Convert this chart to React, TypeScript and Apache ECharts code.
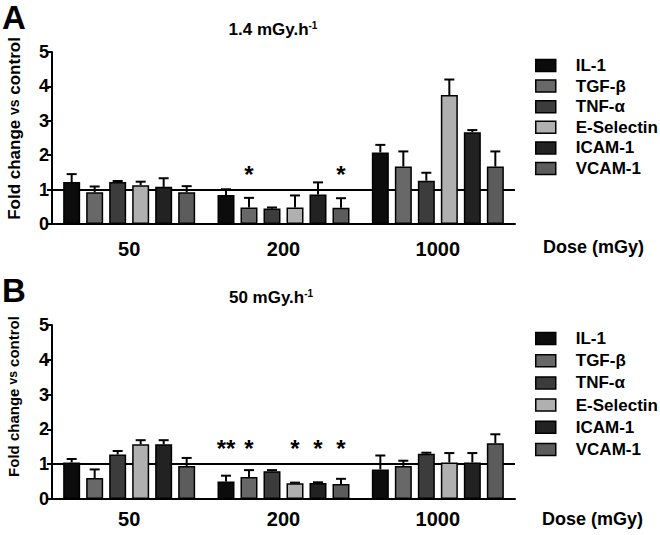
import React, { useEffect, useRef } from "react";
import * as echarts from "echarts";

const categories = ["50", "200", "1000"];
const seriesNames = ["IL-1", "TGF-β", "TNF-α", "E-Selectin", "ICAM-1", "VCAM-1"];
const seriesColors = ["#0c0c0c", "#686868", "#3c3c3c", "#b0b0b0", "#222222", "#5c5c5c"];

// Panel A (1.4 mGy.h-1): means per cytokine across doses 50, 200, 1000
const il1A = [1.22, 0.84, 2.08];
const tgfA = [0.92, 0.48, 1.67];
const tnfA = [1.22, 0.45, 1.26];
const eselA = [1.13, 0.48, 3.75];
const icamA = [1.08, 0.86, 2.67];
const vcamA = [0.92, 0.47, 1.67];
// Panel A SEM
const il1ErrA = [0.23, 0.17, 0.22];
const tgfErrA = [0.17, 0.28, 0.44];
const tnfErrA = [0.03, 0.03, 0.23];
const eselErrA = [0.1, 0.35, 0.45];
const icamErrA = [0.25, 0.35, 0.06];
const vcamErrA = [0.18, 0.28, 0.44];

// Panel B (50 mGy.h-1)
const il1B = [1.05, 0.5, 0.85];
const tgfB = [0.6, 0.63, 0.95];
const tnfB = [1.28, 0.8, 1.3];
const eselB = [1.57, 0.45, 1.05];
const icamB = [1.57, 0.46, 1.05];
const vcamB = [0.95, 0.43, 1.6];
const il1ErrB = [0.1, 0.17, 0.4];
const tgfErrB = [0.25, 0.2, 0.15];
const tnfErrB = [0.1, 0.03, 0.03];
const eselErrB = [0.12, 0.02, 0.27];
const icamErrB = [0.12, 0.02, 0.27];
const vcamErrB = [0.23, 0.15, 0.26];

// significance marks: [category index, level, bar index]
const starsA = [[1, 1.57, 1], [1, 1.57, 5]];
const starTextA = ["*", "*"];
const starsB = [[1, 1.6, 0], [1, 1.6, 1], [1, 1.6, 3], [1, 1.6, 4], [1, 1.6, 5]];
const starTextB = ["**", "*", "*", "*", "*"];

const yTicks = [0, 5, 1];

const FONT = "Liberation Sans, Arial, sans-serif";
const BAR_W = 17;
const BAR_GAP = 6;
const STEP = BAR_W + BAR_GAP;

export default function App() {
  const ref = useRef<HTMLDivElement>(null);
  useEffect(() => {
    if (!ref.current) return;
    const chart = echarts.init(ref.current, null, { renderer: "svg" });
    const means = [
      [il1A, tgfA, tnfA, eselA, icamA, vcamA],
      [il1B, tgfB, tnfB, eselB, icamB, vcamB],
    ];
    const errs = [
      [il1ErrA, tgfErrA, tnfErrA, eselErrA, icamErrA, vcamErrA],
      [il1ErrB, tgfErrB, tnfErrB, eselErrB, icamErrB, vcamErrB],
    ];
    const stars = [starsA, starsB];
    const starTexts = [starTextA, starTextB];

    const series: any[] = [];
    for (let p = 0; p < 2; p++) {
      seriesNames.forEach((name, i) => {
        series.push({
          name,
          type: "bar",
          xAxisIndex: p,
          yAxisIndex: p,
          data: means[p][i],
          barWidth: BAR_W,
          barGap: (BAR_GAP / BAR_W) * 100 + "%",
          itemStyle: { color: seriesColors[i], borderColor: "#000", borderWidth: 1.5 },
          z: 3,
          markLine:
            i === 0
              ? {
                  silent: true,
                  symbol: "none",
                  label: { show: false },
                  lineStyle: { color: "#000", width: 2, type: "solid" },
                  data: [{ yAxis: 1 }],
                  z: 1,
                }
              : undefined,
        });
      });
      const errData: any[] = [];
      for (let i = 0; i < 6; i++) {
        for (let c = 0; c < categories.length; c++) {
          errData.push([c, means[p][i][c], errs[p][i][c], i]);
        }
      }
      series.push({
        type: "custom",
        xAxisIndex: p,
        yAxisIndex: p,
        data: errData,
        encode: { x: 0, y: 1 },
        z: 2,
        renderItem: (params: any, api: any) => {
          const cat = api.value(0);
          const m = api.value(1);
          const e = api.value(2);
          const k = api.value(3);
          const base = api.coord([cat, m]);
          const top = api.coord([cat, m + e]);
          const x = base[0] + (k - 2.5) * STEP;
          return {
            type: "group",
            children: [
              { type: "line", shape: { x1: x, y1: base[1], x2: x, y2: top[1] }, style: { stroke: "#000", lineWidth: 2 } },
              { type: "line", shape: { x1: x - 5, y1: top[1], x2: x + 5, y2: top[1] }, style: { stroke: "#000", lineWidth: 2 } },
            ],
          };
        },
      });
      const texts = starTexts[p];
      series.push({
        type: "custom",
        xAxisIndex: p,
        yAxisIndex: p,
        data: stars[p],
        encode: { x: 0, y: 1 },
        z: 4,
        renderItem: (params: any, api: any) => {
          const pt = api.coord([api.value(0), api.value(1)]);
          const x = pt[0] + (api.value(2) - 2.5) * STEP;
          return {
            type: "text",
            x,
            y: pt[1] + 5,
            style: {
              text: texts[params.dataIndex],
              font: "bold 24px " + FONT,
              fill: "#000",
              align: "center",
              verticalAlign: "middle",
            },
          };
        },
      });
    }

    const grids = [
      { left: 52, top: 52, width: 463, height: 172 },
      { left: 52, top: 325, width: 463, height: 174 },
    ];
    const labelMargins = [15, 10];

    const xAxis = grids.map((_, p) => ({
      type: "category",
      gridIndex: p,
      data: categories,
      axisLine: { lineStyle: { color: "#000", width: 2 } },
      axisTick: { alignWithLabel: true, length: 5, lineStyle: { color: "#000", width: 2 } },
      axisLabel: { color: "#000", fontSize: 20, fontWeight: "bold", fontFamily: FONT, margin: labelMargins[p] },
    }));
    const yAxis = grids.map((_, p) => ({
      type: "value",
      gridIndex: p,
      min: yTicks[0],
      max: yTicks[1],
      interval: yTicks[2],
      splitLine: { show: false },
      axisLine: { show: true, lineStyle: { color: "#000", width: 2 } },
      axisTick: { show: true, length: 5, lineStyle: { color: "#000", width: 2 } },
      axisLabel: { color: "#000", fontSize: 18, fontWeight: "bold", fontFamily: FONT, margin: 3 },
    }));

    const legendBase = {
      orient: "vertical",
      left: 530,
      itemWidth: 20,
      itemHeight: 12,
      icon: "rect",
      selectedMode: false,
      data: seriesNames,
      itemStyle: { borderColor: "#000", borderWidth: 1.5 },
      textStyle: { color: "#000", fontSize: 17, fontWeight: "bold", fontFamily: FONT, lineHeight: 17, padding: [0, 0, 0, 15] },
    };

    const yName = (x: number, y: number, size: number) => ({
      type: "text",
      x,
      y,
      rotation: Math.PI / 2,
      style: {
        text: "{a|Fold change }{b|vs}{a| control}",
        align: "center",
        verticalAlign: "middle",
        rich: {
          a: { fontSize: size, fontWeight: "bold", fontFamily: FONT, fill: "#000" },
          b: { fontSize: size - 3, fontWeight: "bold", fontFamily: FONT, fill: "#000" },
        },
      },
    });
    const title = (x: number, y: number, t: string) => ({
      type: "text",
      x,
      y,
      style: {
        text: "{n|" + t + "}{s|-1}",
        align: "center",
        verticalAlign: "middle",
        rich: {
          n: { fontSize: 17, fontWeight: "bold", fontFamily: FONT, fill: "#000" },
          s: { fontSize: 10, fontWeight: "bold", fontFamily: FONT, fill: "#000", padding: [0, 0, 8, 0] },
        },
      },
    });
    const txt = (x: number, y: number, t: string, size: number) => ({
      type: "text",
      x,
      y,
      style: { text: t, font: "bold " + size + "px " + FONT, fill: "#000", align: "left", verticalAlign: "middle" },
    });
    const letter = (x: number, y: number, t: string) => ({
      type: "text",
      x,
      y,
      style: { text: t, font: "bold 33px " + FONT, lineHeight: 33, fill: "#000", align: "left", verticalAlign: "top" },
    });

    chart.setOption({
      animation: false,
      backgroundColor: "#fff",
      grid: grids,
      xAxis,
      yAxis,
      legend: [
        { ...legendBase, top: 52, itemGap: 3.6 },
        { ...legendBase, top: 325, itemGap: 5.2 },
      ],
      series,
      graphic: [
        letter(2, 1, "A"),
        letter(2, 274, "B"),
        title(273, 29, "1.4 mGy.h"),
        title(271, 297, "50 mGy.h"),
        yName(14, 128.5, 17),
        yName(13, 396.5, 15),
        txt(543, 247, "Dose (mGy)", 18),
        txt(542, 519, "Dose (mGy)", 18),
      ],
    });
    return () => chart.dispose();
  }, []);
  return <div ref={ref} style={{ position: "fixed", left: 0, top: 0, width: 660, height: 535 }} />;
}
